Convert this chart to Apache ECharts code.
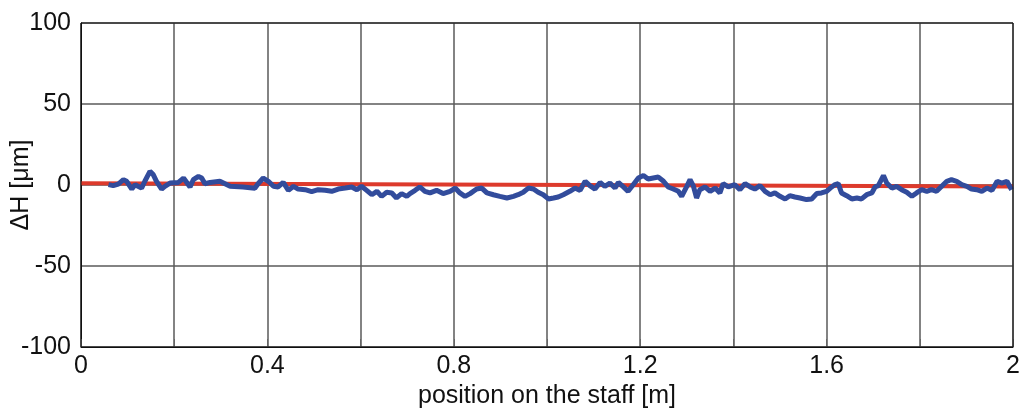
<!DOCTYPE html>
<html>
<head>
<meta charset="utf-8">
<script src="https://cdn.jsdelivr.net/npm/echarts@6/dist/echarts.min.js"></script>
<style>
  html, body { margin: 0; padding: 0; background: #fff; }
  #chart { width: 1026px; height: 413px; }
</style>
</head>
<body>
<div id="chart"></div>
<script>
// position on the staff [m]
var positions = [
  0.059, 0.069, 0.080, 0.091, 0.098, 0.109, 0.116, 0.130, 0.137, 0.148,
  0.155, 0.162, 0.173, 0.180, 0.191, 0.209, 0.220, 0.234, 0.241, 0.252,
  0.259, 0.266, 0.277, 0.298, 0.320, 0.348, 0.373, 0.380, 0.391, 0.402,
  0.413, 0.423, 0.434, 0.445, 0.456, 0.466, 0.481, 0.495, 0.509, 0.524,
  0.538, 0.552, 0.567, 0.581, 0.592, 0.602, 0.613, 0.624, 0.635, 0.645,
  0.656, 0.667, 0.677, 0.688, 0.699, 0.706, 0.717, 0.727, 0.738, 0.749,
  0.763, 0.777, 0.792, 0.803, 0.813, 0.824, 0.835, 0.849, 0.860, 0.871,
  0.885, 0.899, 0.914, 0.928, 0.938, 0.949, 0.960, 0.971, 0.981, 0.992,
  1.003, 1.014, 1.024, 1.035, 1.049, 1.060, 1.071, 1.082, 1.092, 1.103,
  1.114, 1.124, 1.135, 1.146, 1.153, 1.164, 1.174, 1.185, 1.196, 1.207,
  1.217, 1.228, 1.239, 1.250, 1.260, 1.271, 1.282, 1.289, 1.300, 1.307,
  1.314, 1.321, 1.328, 1.339, 1.350, 1.361, 1.371, 1.378, 1.389, 1.403,
  1.414, 1.425, 1.436, 1.446, 1.457, 1.468, 1.479, 1.489, 1.500, 1.511,
  1.521, 1.532, 1.543, 1.557, 1.568, 1.579, 1.589, 1.600, 1.611, 1.618,
  1.625, 1.632, 1.643, 1.654, 1.665, 1.675, 1.686, 1.697, 1.704, 1.711,
  1.722, 1.729, 1.740, 1.750, 1.761, 1.772, 1.783, 1.793, 1.804, 1.815,
  1.825, 1.836, 1.847, 1.858, 1.868, 1.879, 1.890, 1.901, 1.911, 1.922,
  1.933, 1.944, 1.955, 1.966, 1.976, 1.987, 1.997
];
// deviation ΔH [μm]
var deltaH = [
  0.2, -0.4, 0.6, 3.3, 2.3, -2.5, 0.2, -1.9, 2.3, 8.4,
  6.4, 2.3, -2.5, -0.8, 1.2, 1.6, 4.3, -1.2, 3.3, 5.3,
  4.3, 0.8, 1.6, 2.3, -0.8, -1.2, -2.0, 0.8, 4.3, 2.3,
  -0.8, -1.2, 1.6, -3.3, -0.8, -2.5, -2.9, -4.1, -2.9, -3.3,
  -3.9, -2.5, -1.9, -1.2, -2.9, -0.8, -3.3, -6.0, -3.9, -7.0,
  -4.5, -4.9, -8.0, -5.3, -7.0, -5.3, -3.3, -1.2, -3.9, -4.9,
  -3.3, -5.3, -3.9, -1.9, -4.9, -7.0, -5.3, -2.5, -1.9, -4.9,
  -6.0, -7.0, -8.0, -7.0, -6.0, -4.5, -1.9, -2.5, -4.5, -6.0,
  -8.6, -8.0, -7.4, -6.0, -3.9, -1.9, -3.3, 2.3, -0.4, -2.5,
  1.6, -0.8, 1.2, -1.9, 1.6, -1.2, -3.9, 0.2, 4.3, 5.8,
  3.7, 4.3, 4.9, 2.3, -1.2, -2.5, -3.9, -7.0, -0.8, 3.3,
  -0.5, -8.0, -2.9, -1.2, -3.9, -1.9, -4.9, 0.8, -1.2, 0.2,
  -2.9, 0.8, -1.2, -2.5, -0.4, -3.9, -6.0, -4.9, -7.0, -8.6,
  -6.6, -7.4, -8.0, -9.0, -8.6, -5.3, -4.9, -3.9, -1.2, 0.2,
  0.8, -4.9, -6.6, -8.6, -8.0, -8.6, -6.0, -4.9, -1.2, -0.4,
  5.8, 1.2, -1.9, -0.8, -2.9, -4.5, -7.0, -4.9, -2.9, -3.9,
  -2.9, -3.9, -0.8, 2.3, 3.3, 2.3, 0.2, -0.8, -2.5, -2.9,
  -3.9, -1.9, -3.3, 2.3, 1.2, 2.3, -2.9
];
// linear fit (red)
var fitX = [0, 2];
var fitY = [1.1, -0.9];

var xTickLabels = ['0', '0.4', '0.8', '1.2', '1.6', '2'];
var yTickLabels = ['-100', '-50', '0', '50', '100'];

var chart = echarts.init(document.getElementById('chart'));
var font = '"Liberation Sans", Arial, sans-serif';

function zip(xs, ys) {
  var out = [];
  for (var i = 0; i < xs.length; i++) out.push([xs[i], ys[i]]);
  return out;
}

var option = {
  animation: false,
  backgroundColor: '#ffffff',
  grid: { left: 81, right: 13, top: 23, bottom: 66, outerBoundsMode: 'none', containLabel: false },
  xAxis: {
    type: 'value',
    min: 0, max: 2, interval: 0.2,
    name: 'position on the staff [m]',
    nameLocation: 'middle',
    nameGap: 37,
    nameMoveOverlap: false,
    nameTextStyle: { color: '#111', fontSize: 25, fontFamily: font },
    axisLine: { show: true, onZero: false, lineStyle: { color: '#111', width: 1 } },
    axisTick: { show: true, inside: true, length: 8, lineStyle: { color: '#666' } },
    splitLine: { show: true, lineStyle: { color: '#5a5a5a', width: 1.5 } },
    axisLabel: {
      color: '#111', fontSize: 25, fontFamily: font, margin: 7,
      formatter: function (v) {
        var k = Math.round(v * 10);
        if (k % 4 !== 0 && k !== 20) return '';
        return xTickLabels[Math.round(v / 0.4)];
      }
    }
  },
  yAxis: {
    type: 'value',
    min: -100, max: 100, interval: 50,
    name: 'ΔH [μm]',
    nameLocation: 'middle',
    nameGap: 47,
    nameMoveOverlap: false,
    nameRotate: 90,
    nameTextStyle: { color: '#111', fontSize: 25, fontFamily: font },
    axisLine: { show: true, lineStyle: { color: '#111', width: 1 } },
    axisTick: { show: false },
    splitLine: { show: true, lineStyle: { color: '#5a5a5a', width: 1.5 } },
    axisLabel: {
      color: '#111', fontSize: 25, fontFamily: font, margin: 10,
      formatter: function (v) { return yTickLabels[Math.round((v + 100) / 50)]; }
    }
  },
  series: [
    {
      type: 'line',
      data: zip(fitX, fitY),
      symbol: 'none',
      lineStyle: { color: '#dd3a2c', width: 4 },
      z: 2
    },
    {
      type: 'line',
      data: zip(positions, deltaH),
      symbol: 'none',
      lineStyle: { color: '#324c9c', width: 5 },
      z: 3
    }
  ],
  graphic: [
    {
      type: 'rect',
      shape: { x: 81, y: 23, width: 932, height: 324 },
      style: { fill: 'none', stroke: '#111', lineWidth: 1 },
      silent: true,
      z: 100
    }
  ]
};
chart.setOption(option);
window.addEventListener('resize', function () { chart.resize(); });
</script>
</body>
</html>
